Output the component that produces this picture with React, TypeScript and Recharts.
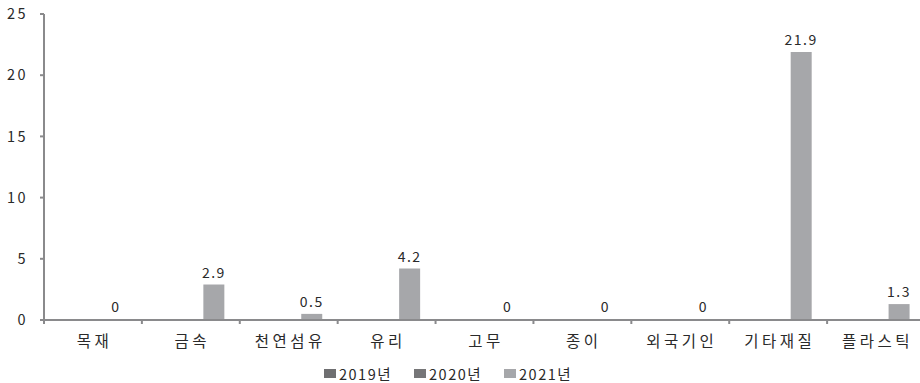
import React from 'react';
import { BarChart, Bar, XAxis, YAxis, Legend, LabelList } from 'recharts';

// 재질별 비율 (%)
const categories = ['목재', '금속', '천연섬유', '유리', '고무', '종이', '외국기인', '기타재질', '플라스틱'];
const values2019: (number | null)[] = [null, null, null, null, null, null, null, null, null];
const values2020: (number | null)[] = [null, null, null, null, null, null, null, null, null];
const values2021 = [0, 2.9, 0.5, 4.2, 0, 0, 0, 21.9, 1.3];
const yTicks = [0, 5, 10, 15, 20, 25];

const seriesNames = ['2019년', '2020년', '2021년'];
const seriesColors = ['#6f6f71', '#767678', '#a6a7aa'];

const data = categories.map((name, i) => ({
  name,
  y2019: values2019[i],
  y2020: values2020[i],
  y2021: values2021[i],
}));

const FONT = '"Noto Sans CJK KR", "Noto Sans", sans-serif';
const AXIS = '#8a8a8c';
const TEXT = '#2a2a2a';

// x축: 분류 이름과 분류 경계의 눈금
const X_TICK_SIZE = 6;
const X_TICK_MARGIN = 10;
const BOUNDARY_TICK = 4;

const CategoryTick = (props: any) => {
  const { x, y, payload } = props;
  const axisY = y - X_TICK_SIZE - X_TICK_MARGIN;
  const edgeX = x - (payload.offset ?? 0);
  return (
    <g>
      <line x1={edgeX} x2={edgeX} y1={axisY} y2={axisY + BOUNDARY_TICK} stroke={AXIS} strokeWidth={2} />
      <text x={x + 1.5} y={y} dy="0.71em" textAnchor="middle" fill={TEXT} fontSize={15.5} style={{ letterSpacing: 3.5 }}>
        {payload.value}
      </text>
    </g>
  );
};

const LegendContent = (props: any) => {
  const { payload = [] } = props;
  return (
    <div style={{ display: 'flex', gap: 22, fontFamily: FONT, fontSize: 14.5, color: TEXT, letterSpacing: 1.5, height: 20, alignItems: 'center' }}>
      {payload.map((p: any) => (
        <div key={p.value} style={{ display: 'flex', alignItems: 'center' }}>
          <span style={{ display: 'inline-block', flex: '0 0 12px', width: 12, height: 9, background: p.color, marginRight: 3 }} />
          <span>{p.value}</span>
        </div>
      ))}
    </div>
  );
};

export default function App() {
  return (
    <div style={{ position: 'absolute', left: 0, top: 0, width: 920, height: 383, overflow: 'hidden', background: '#fff' }}>
      <BarChart
        width={920}
        height={383}
        data={data}
        margin={{ top: 14, right: -5, left: 0, bottom: 0 }}
        barCategoryGap="15.8%"
        barGap={2}
        style={{ fontFamily: FONT }}
      >
        <XAxis
          dataKey="name"
          height={43}
          tickLine={false}
          tickSize={X_TICK_SIZE}
          tickMargin={X_TICK_MARGIN}
          axisLine={{ stroke: AXIS, strokeWidth: 2 }}
          tick={<CategoryTick />}
          interval={0}
        />
        <YAxis
          width={44}
          domain={[0, 25]}
          ticks={yTicks}
          axisLine={{ stroke: AXIS, strokeWidth: 2 }}
          tickLine={{ stroke: AXIS, strokeWidth: 2 }}
          tickSize={4}
          tickMargin={12}
          tick={{ fill: TEXT, fontSize: 14.5, letterSpacing: 2.5 }}
        />
        <Legend
          verticalAlign="bottom"
          align="left"
          height={20}
          content={<LegendContent />}
          wrapperStyle={{ left: 324, bottom: 0 }}
        />
        <Bar dataKey="y2019" name={seriesNames[0]} fill={seriesColors[0]} isAnimationActive={false} />
        <Bar dataKey="y2020" name={seriesNames[1]} fill={seriesColors[1]} isAnimationActive={false} />
        <Bar dataKey="y2021" name={seriesNames[2]} fill={seriesColors[2]} minPointSize={1} isAnimationActive={false}>
          <LabelList dataKey="y2021" position="top" offset={7} fill={TEXT} fontSize={14} style={{ letterSpacing: 1.5 }} />
        </Bar>
      </BarChart>
    </div>
  );
}
